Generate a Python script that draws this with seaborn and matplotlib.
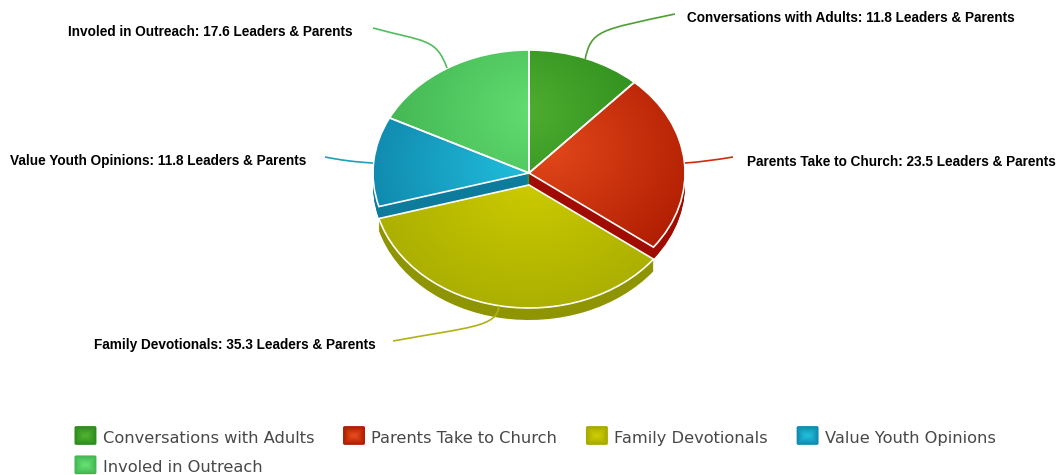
import numpy as np
import matplotlib
matplotlib.use("Agg")
import matplotlib.pyplot as plt
from matplotlib.legend_handler import HandlerBase
from matplotlib.patches import FancyBboxPatch, Patch, PathPatch
from matplotlib.path import Path
import seaborn as sns

# Survey results, clockwise from twelve o'clock
categories = ["Conversations with Adults", "Parents Take to Church", "Family Devotionals",
              "Value Youth Opinions", "Involed in Outreach"]
values = [11.8, 23.5, 35.3, 11.8, 17.6]
unit = "Leaders & Parents"

light_colors = ["#4fad30", "#e2481a", "#cbca00", "#20bad9", "#62de70"]
dark_colors = ["#2b8c1c", "#ad1a00", "#a4a900", "#1089ae", "#43b553"]
side_colors = ["#1f7012", "#a00c00", "#8f9500", "#0d7c9c", "#2f9a40"]
line_colors = ["#4f9e33", "#d42a0c", "#b0b214", "#1f9fbd", "#52bc60"]
drops = [0, 0, 12, 0, 0]            # downward shift of a pulled-out slice, px

W, H = 1063, 475
CX, CY, RX, RY = 529, 173, 156, 123  # pie centre and radii, px
DEPTH = 12

sns.set_theme(style="white", rc={"font.family": "Liberation Sans"})
fig = plt.figure(figsize=(W / 100, H / 100), dpi=100)

# Pie axes: one data unit equals one radius, stretched into an ellipse
xmin, xmax = -1.1, 1.1
ymin, ymax = -1.35, 1.1
ax = fig.add_axes([(CX + xmin * RX) / W, 1 - (CY - ymin * RY) / H,
                   (xmax - xmin) * RX / W, (ymax - ymin) * RY / H])


def pie_layer(shift, **kw):
    wedges = ax.pie(values, startangle=90, counterclock=False, radius=1, **kw)[0]
    for wedge, drop in zip(wedges, drops):
        wedge.set_center((0, -(drop + shift) / RY))
    return wedges


# Side wall: the pie repeated downward, with the pulled-out slice on top
for depth in range(DEPTH, 0, -1):
    for wedge, order in zip(pie_layer(depth, colors=side_colors, wedgeprops={"linewidth": 0}),
                            [1, 1, 3, 1, 1]):
        wedge.set_zorder(order)

# Top faces: radial shading clipped to each wedge, white outline above it
focus = [(-0.05, 0.5), (0.1, 0.2), (0.0, -0.1), (-0.1, 0.06), (0.05, 0.5)]
reach = [0.95, 1.15, 1.25, 0.95, 1.0]
top = pie_layer(0, colors=["none"] * len(values),
                wedgeprops={"edgecolor": "white", "linewidth": 1.2})
grid_x, grid_y = np.meshgrid(np.linspace(-1.1, 1.1, 500), np.linspace(-1.35, 1.1, 500))
for i, wedge in enumerate(top):
    order = 4 if drops[i] else 2
    shade = np.clip(np.hypot(grid_x - focus[i][0], grid_y - focus[i][1]) / reach[i], 0, 1)
    cmap = sns.blend_palette([light_colors[i], dark_colors[i]], as_cmap=True)
    image = ax.imshow(shade, extent=(-1.1, 1.1, -1.35, 1.1), origin="lower", cmap=cmap,
                      vmin=0, vmax=1, aspect="auto", zorder=order, interpolation="bilinear")
    image.set_clip_path(wedge)
    wedge.set_zorder(order + 0.5)
ax.set_xlim(xmin, xmax)
ax.set_ylim(ymin, ymax)
ax.set_aspect("auto")
ax.set_axis_off()

# Overlay in pixel units for leader lines and callouts
over = fig.add_axes([0, 0, 1, 1], zorder=5)
over.set_xlim(0, W)
over.set_ylim(H, 0)
over.set_axis_off()
over.patch.set_alpha(0)

leaders = [
    [(585, 60), (591, 30), (600, 30), (675, 14)],
    [(685, 163), (700, 162), (715, 160), (733, 157)],
    [(499, 306), (497, 327), (470, 327), (393, 341)],
    [(373, 163), (355, 162), (340, 160), (325, 157)],
    [(447, 68), (436, 38), (425, 42), (373, 28)],
]
for points, color in zip(leaders, line_colors):
    curve = Path(points, [Path.MOVETO, Path.CURVE4, Path.CURVE4, Path.CURVE4])
    over.add_patch(PathPatch(curve, fc="none", ec=color, lw=1.2))

anchors = [(687, 18.5), (747, 161.5), (94, 344.5), (10, 161.5), (68, 32.5)]
for name, value, (x, y) in zip(categories, values, anchors):
    over.text(x, y, f"{name}: {value} {unit}", ha="left", va="center",
              fontsize=9.82, fontweight="bold", color="black",
              family="Liberation Sans")


class SwatchHandler(HandlerBase):
    """Rounded legend key built from nested boxes, dark rim to light centre."""

    def create_artists(self, legend, handle, xd, yd, width, height, fontsize, trans):
        cmap = sns.blend_palette([handle.dark, handle.light], as_cmap=True)
        parts = []
        for k in range(9):
            inset = k * 0.7
            parts.append(FancyBboxPatch(
                (inset, inset - 1.5), width - 2 * inset, height - 2 * inset,
                boxstyle="round,pad=0,rounding_size=1.2", fc=cmap(k / 8), ec="none",
                transform=trans))
        return parts


handles = []
for name, lo, hi in zip(categories, dark_colors, light_colors):
    key = Patch(label=name)
    key.dark, key.light = lo, hi
    handles.append(key)
# Columns fill top-down, so the wrapped entry goes second in the first column
order = [0, 4, 1, 2, 3]
legend = over.legend(
    [handles[i] for i in order], [categories[i] for i in order],
    handler_map={Patch: SwatchHandler()}, ncols=4, frameon=False,
    loc="upper left", bbox_to_anchor=(74.5 / W, 1 - 428 / H), bbox_transform=fig.transFigure,
    borderaxespad=0, borderpad=0, handlelength=1.35, handleheight=1.4, handletextpad=0.4,
    columnspacing=1.76, labelspacing=0.65,
    prop={"family": "DejaVu Sans", "size": 11.7})
for text in legend.get_texts():
    text.set_color("#484848")

fig.savefig("out.png", dpi=100, facecolor="white")
